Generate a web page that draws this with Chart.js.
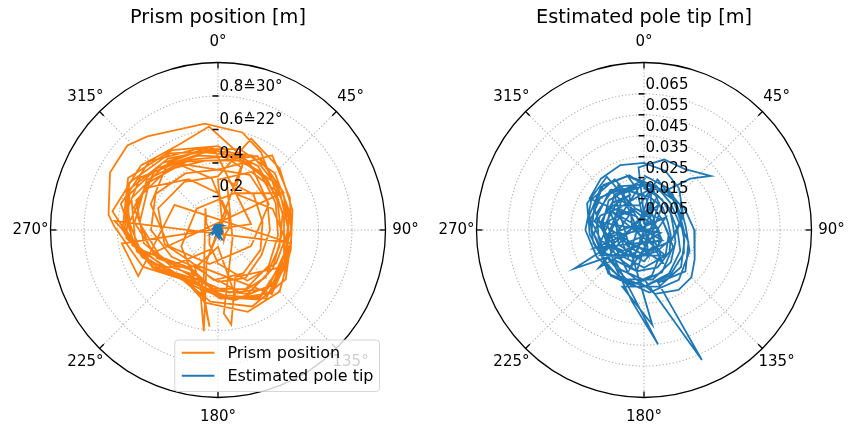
<!DOCTYPE html>
<html>
<head>
<meta charset="utf-8">
<script src="https://cdn.jsdelivr.net/npm/chart.js@4"></script>
<style>
  html, body { margin: 0; padding: 0; background: #fff; }
  #wrap { position: relative; width: 854px; height: 430px; overflow: hidden; }
  .panel { position: absolute; top: 0; }
  #left { left: 0; }
  #right { left: 427px; }
</style>
</head>
<body>
<div id="wrap">
  <div class="panel" id="left"><canvas id="prismChart" width="427" height="430"></canvas></div>
  <div class="panel" id="right"><canvas id="tipChart" width="427" height="430"></canvas></div>
</div>
<script>
// ---- Prism position track: azimuth (deg, clockwise from north) and distance (m)
const prismTheta = [
  30, 60, 90, 120, 150, 180, 210, 240, 270, 300, 330, 0,
  32, 62, 95, 125, 155, 185, 215, 245, 275, 305, 335, 5,
  20, 200, 190, 188, 195, 230, 260, 290, 320, 350,
  25, 55, 85, 115, 145, 175, 205, 235, 265, 295, 325, 355,
  328, 353, 27, 199, 231, 256, 280, 304, 328,
  30, 60, 90, 120, 150, 180, 210, 240, 270, 300, 330, 0,
  36, 66, 96, 126, 156, 186, 214, 244, 272, 278, 298, 313, 323, 353, 14, 29,
  50, 80, 110, 140, 170, 200, 230, 260, 290, 320, 350, 20,
  24, 69, 103, 135, 167, 201, 246, 315, 24,
  60, 250, 275, 100, 118, 160, 172, 176, 120,
  10, 45, 80, 115, 150, 185, 220, 255, 290, 325, 0,
  20, 45, 75, 105, 135, 160, 190, 220, 250, 280, 310, 335, 355,
  26, 63, 116, 194, 252, 291, 323, 354,
  35, 65, 95, 125, 155, 185, 215, 245, 275, 305, 335, 5,
  28, 58, 88, 118, 148, 178, 208, 238, 268, 298, 328, 358,
  80, 262, 240, 300, 100, 110, 140, 215, 190, 185,
  200, 230, 260, 290, 320, 350, 20, 50, 80, 110, 140, 170,
  195, 225, 255, 285, 315, 345, 15, 45, 75, 105, 135, 165,
  180, 210, 240, 270, 300, 330, 0, 30, 60, 90, 120, 150,
  0, 30, 60, 90, 120, 150, 180, 210, 240, 270, 300, 330,
  195, 225, 255, 285, 315, 345, 15, 45, 75, 105, 135, 160, 180
];
const prismR = [
  .50, .45, .42, .46, .48, .40, .33, .45, .57, .62, .55, .50,
  .45, .40, .38, .40, .42, .36, .29, .40, .50, .52, .46, .44,
  .40, .20, .45, .61, .40, .37, .52, .58, .52, .49,
  .49, .44, .42, .44, .50, .39, .35, .42, .55, .58, .52, .48,
  .47, .31, .11, .12, .32, .48, .56, .56, .47,
  .38, .34, .31, .30, .33, .31, .26, .32, .40, .43, .39, .36,
  .55, .47, .44, .50, .50, .43, .36, .50, .62, .66, .73, .74, .70, .64, .60, .53,
  .43, .40, .42, .46, .38, .32, .38, .50, .55, .50, .47, .47,
  .24, .35, .43, .46, .43, .35, .24, .18, .24,
  .44, .45, .62, .44, .46, .30, .57, .50, .10,
  .30, .30, .27, .28, .30, .30, .25, .33, .38, .35, .32,
  .58, .52, .46, .45, .52, .52, .44, .35, .48, .64, .60, .56, .62,
  .44, .34, .22, .21, .31, .43, .50, .50,
  .43, .38, .36, .37, .39, .35, .28, .38, .47, .50, .45, .42,
  .50, .45, .44, .43, .47, .41, .34, .44, .56, .60, .54, .47,
  .20, .58, .55, .30, .42, .45, .50, .25, .45, .58,
  .30, .35, .45, .52, .47, .42, .44, .44, .43, .44, .49, .42,
  .37, .38, .50, .60, .58, .50, .50, .48, .44, .43, .46, .43,
  .10, .25, .45, .55, .50, .35, .22, .12, .08, .06, .05, .07,
  .30, .40, .43, .42, .40, .35, .20, .10, .06, .05, .08, .15,
  .33, .33, .42, .52, .52, .46, .45, .42, .40, .38, .40, .40, .30
];

// ---- Estimated pole tip track: azimuth (deg) and distance (m)
const tipTheta = [
  0, 30, 60, 90, 120, 150, 180, 210, 240, 270, 300, 330,
  333, 2, 45, 174, 225, 255, 281, 307, 333,
  10, 40, 70, 100, 130, 160, 190, 220, 250, 280, 310, 340,
  300, 120, 250, 60, 200, 20, 230, 100, 280, 150, 330, 170,
  355, 16, 34, 51, 42, 30, 55, 85, 115, 145, 175, 205, 235, 265, 295, 325,
  338, 62, 120, 157, 189, 219, 250, 286, 338,
  0, 45, 90, 135, 180, 225, 270, 315,
  300, 320, 340, 0, 20, 40, 70, 100, 150, 200, 250,
  310, 332, 180, 198, 221, 243, 265, 288, 310,
  15, 45, 75, 105, 135, 165, 156, 179, 210, 240, 270, 300, 330,
  5, 38, 72, 112, 169, 240, 293, 332, 5,
  0, 30, 60, 90, 120, 150, 180, 201, 175, 190, 224, 173, 189, 220, 250, 280, 310, 340,
  288, 118, 146, 170, 193, 216, 239, 263, 288,
  20, 60, 100, 140, 180, 228, 241, 247, 280, 320, 350,
  343, 9, 39, 112, 233, 266, 293, 318, 343,
  30, 60, 90, 105, 120, 135, 150, 170, 200, 240, 280, 320, 0,
  260, 80, 320, 190, 30, 240, 140, 300, 210, 10,
  30, 70, 110, 150, 190, 230, 270, 310, 350,
  15, 45, 75, 105, 135, 165, 195, 225, 255, 285, 315, 345,
  20, 50, 80, 110, 140, 170, 200, 230, 260, 290, 320, 350,
  0, 60, 120, 180, 240, 300, 330
];
const tipR = [
  .026, .023, .019, .019, .022, .025, .027, .025, .026, .028, .029, .028,
  .022, .016, .007, .006, .014, .021, .026, .026, .022,
  .016, .014, .012, .013, .016, .019, .020, .018, .019, .021, .020, .018,
  .020, .010, .025, .012, .020, .015, .028, .008, .022, .018, .025, .012,
  .030, .035, .035, .041, .033, .022, .021, .020, .024, .029, .030, .026, .024, .026, .030, .031,
  .011, .010, .016, .022, .026, .027, .023, .017, .011,
  .008, .006, .007, .010, .012, .011, .012, .010,
  .030, .032, .033, .032, .030, .026, .020, .015, .012, .014, .020,
  .016, .007, .002, .011, .018, .023, .024, .022, .016,
  .022, .018, .017, .022, .028, .026, .068, .024, .022, .022, .025, .027, .024,
  .022, .022, .019, .014, .010, .011, .015, .020, .022,
  .020, .017, .015, .016, .020, .024, .027, .029, .0455, .020, .020, .055, .035, .022, .018, .020, .022, .021,
  .006, .004, .014, .022, .027, .027, .023, .016, .006,
  .012, .010, .012, .016, .018, .017, .038, .015, .024, .025, .020,
  .027, .022, .013, .004, .010, .019, .026, .029, .027,
  .020, .022, .024, .025, .028, .032, .033, .031, .022, .016, .018, .022, .024,
  .018, .006, .022, .020, .014, .024, .016, .019, .015, .020,
  .006, .004, .005, .009, .014, .016, .020, .018, .012,
  .025, .020, .018, .020, .025, .028, .028, .024, .025, .027, .029, .027,
  .018, .016, .014, .016, .020, .024, .025, .022, .022, .024, .024, .021,
  .003, .006, .010, .015, .014, .016, .010
];

// ---- Axis ticks
const thetaTicks = [0, 45, 90, 135, 180, 225, 270, 315];
const prismRTicks = [0.2, 0.4, 0.6, 0.8];
const prismRLabels = ['0.2', '0.4', '0.6\u225922\u00b0', '0.8\u225930\u00b0'];
const tipRTicks = [0.005, 0.015, 0.025, 0.035, 0.045, 0.055, 0.065];
const tipRLabels = ['0.005', '0.015', '0.025', '0.035', '0.045', '0.055', '0.065'];

const ORANGE = '#ff7f0e';
const BLUE = '#1f77b4';
const FONT = "'DejaVu Sans', sans-serif";

// azimuth/range -> east/north for the cartesian scales underneath
function polarPoints(theta, r) {
  return theta.map((t, i) => {
    const a = t * Math.PI / 180;
    return { x: r[i] * Math.sin(a), y: r[i] * Math.cos(a) };
  });
}

// Draws the polar frame (rings, spokes, ticks, labels) and an optional legend
const polarFrame = {
  id: 'polarFrame',
  geom(chart) {
    const xs = chart.scales.x, ys = chart.scales.y;
    const cx = xs.getPixelForValue(0), cy = ys.getPixelForValue(0);
    const R = xs.getPixelForValue(xs.max) - cx;
    return { xs, ys, cx, cy, R };
  },
  beforeDatasetsDraw(chart, args, opts) {
    const { ctx } = chart;
    const { xs, cx, cy, R } = this.geom(chart);
    ctx.save();
    ctx.strokeStyle = '#b0b0b0';
    ctx.lineWidth = 1.1;
    ctx.setLineDash([1.2, 2.2]);
    opts.rTicks.forEach(v => {
      const rp = xs.getPixelForValue(v) - cx;
      ctx.beginPath();
      ctx.arc(cx, cy, rp, 0, Math.PI * 2);
      ctx.stroke();
    });
    thetaTicks.forEach(t => {
      const a = t * Math.PI / 180;
      ctx.beginPath();
      ctx.moveTo(cx, cy);
      ctx.lineTo(cx + R * Math.sin(a), cy - R * Math.cos(a));
      ctx.stroke();
    });
    ctx.restore();
  },
  afterDatasetsDraw(chart, args, opts) {
    const { ctx } = chart;
    const { ys, cx, cy, R } = this.geom(chart);
    ctx.save();
    // outer spine
    ctx.strokeStyle = '#000';
    ctx.lineWidth = 1.3;
    ctx.beginPath();
    ctx.arc(cx, cy, R, 0, Math.PI * 2);
    ctx.stroke();
    // angular ticks and labels
    ctx.font = '15px ' + FONT;
    ctx.fillStyle = '#000';
    ctx.textAlign = 'center';
    ctx.textBaseline = 'middle';
    thetaTicks.forEach(t => {
      const a = t * Math.PI / 180;
      const s = Math.sin(a), c = Math.cos(a);
      ctx.beginPath();
      ctx.moveTo(cx + R * s, cy - R * c);
      ctx.lineTo(cx + (R - 6) * s, cy - (R - 6) * c);
      ctx.stroke();
      ctx.fillText(t + '\u00b0', cx + (R + 20) * s, cy - (R + 20) * c);
    });
    // radial ticks and labels along the 0 degree spoke
    ctx.textAlign = 'left';
    ctx.lineWidth = 1.5;
    opts.rTicks.forEach((v, i) => {
      const y = ys.getPixelForValue(v);
      ctx.beginPath();
      ctx.moveTo(cx - 5.5, y);
      ctx.lineTo(cx + 0.5, y);
      ctx.stroke();
      ctx.fillText(opts.rLabels[i], cx + 1.5, y - 9);
    });
    ctx.restore();

    if (opts.legend) {
      const area = chart.chartArea;
      const items = chart.data.datasets.map(d => ({ label: d.label, color: d.borderColor }));
      ctx.save();
      ctx.font = '16px ' + FONT;
      const tw = Math.max(...items.map(it => ctx.measureText(it.label).width));
      const w = 7 + 32.6 + 13 + tw + 6;
      const h = 51.5;
      const x1 = area.right - 6, y1 = area.bottom - 6;
      const x0 = x1 - w, y0 = y1 - h;
      ctx.beginPath();
      ctx.roundRect(x0, y0, w, h, 3);
      ctx.fillStyle = 'rgba(255,255,255,0.8)';
      ctx.fill();
      ctx.strokeStyle = 'rgba(204,204,204,0.8)';
      ctx.lineWidth = 1;
      ctx.stroke();
      ctx.textAlign = 'left';
      ctx.textBaseline = 'middle';
      items.forEach((it, i) => {
        const y = y0 + 12.7 + i * 23;
        ctx.strokeStyle = it.color;
        ctx.lineWidth = 2;
        ctx.beginPath();
        ctx.moveTo(x0 + 7, y);
        ctx.lineTo(x0 + 7 + 32.6, y);
        ctx.stroke();
        ctx.fillStyle = '#000';
        ctx.fillText(it.label, x0 + 7 + 32.6 + 13, y + 1);
      });
      ctx.restore();
    }
  }
};

function makeOptions(title, rMax, pad, frame) {
  return {
    responsive: false,
    devicePixelRatio: 1,
    animation: false,
    layout: { padding: pad },
    scales: {
      x: { type: 'linear', min: -rMax, max: rMax, display: false },
      y: { type: 'linear', min: -rMax, max: rMax, display: false }
    },
    elements: { point: { radius: 0 }, line: { tension: 0 } },
    plugins: {
      legend: { display: false },
      tooltip: { enabled: false },
      title: {
        display: true,
        text: title,
        color: '#000',
        font: { family: FONT, size: 19.3, weight: 'normal' },
        padding: { top: 6, bottom: 33.3 }
      },
      polarFrame: frame
    }
  };
}

new Chart(document.getElementById('prismChart'), {
  type: 'scatter',
  data: {
    datasets: [
      { label: 'Prism position', data: polarPoints(prismTheta, prismR), showLine: true,
        borderColor: ORANGE, backgroundColor: ORANGE, borderWidth: 1.8, pointRadius: 0, order: 2 },
      { label: 'Estimated pole tip', data: polarPoints(tipTheta, tipR), showLine: true,
        borderColor: BLUE, backgroundColor: BLUE, borderWidth: 1.8, pointRadius: 0, order: 1 }
    ]
  },
  options: makeOptions('Prism position [m]', 1.0,
    { left: 50.5, right: 41.5, top: 0, bottom: 32.5 },
    { rTicks: prismRTicks, rLabels: prismRLabels, legend: true }),
  plugins: [polarFrame]
});

new Chart(document.getElementById('tipChart'), {
  type: 'scatter',
  data: {
    datasets: [
      { label: 'Estimated pole tip', data: polarPoints(tipTheta, tipR), showLine: true,
        borderColor: BLUE, backgroundColor: BLUE, borderWidth: 1.8, pointRadius: 0 }
    ]
  },
  options: makeOptions('Estimated pole tip [m]', 0.08,
    { left: 49.5, right: 42.5, top: 0, bottom: 32.5 },
    { rTicks: tipRTicks, rLabels: tipRLabels, legend: false }),
  plugins: [polarFrame]
});
</script>
</body>
</html>
